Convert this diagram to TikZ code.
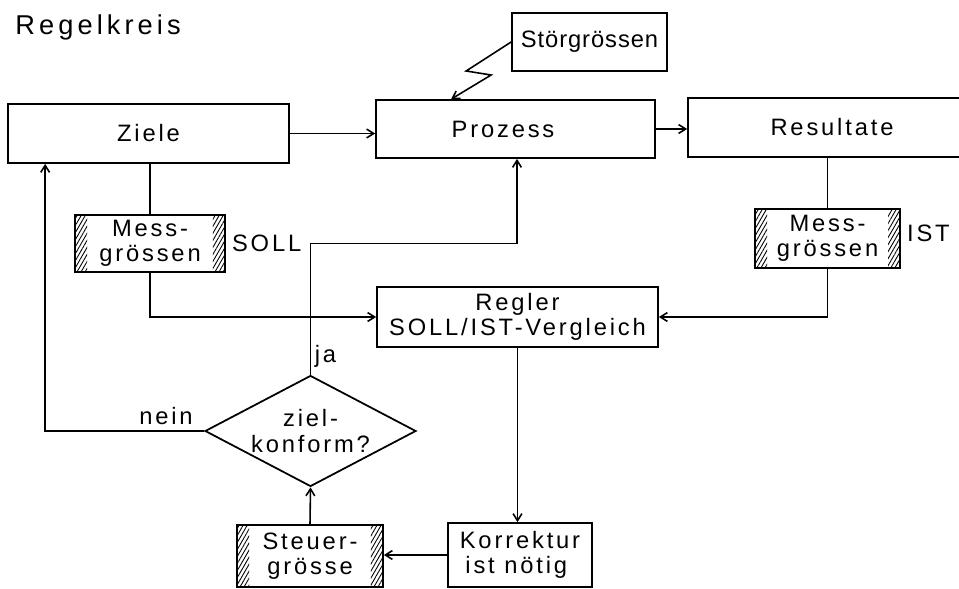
\documentclass[tikz,border=0pt]{standalone}
\usepackage{fontspec}
\setmainfont[LetterSpace=12]{Liberation Sans}
\newfontfamily\titlefont[LetterSpace=15]{Liberation Sans}
\newfontfamily\engfont[LetterSpace=4]{Liberation Sans}
\usetikzlibrary{shapes.geometric,arrows.meta,patterns.meta}
\tikzset{
    block/.style = {draw, line width=1pt, rectangle, inner sep=0pt, align=center},
    messbox/.style = {block, path picture={
        \path[pattern={Lines[angle=60,distance=2pt,line width=0.5pt]}]
            (path picture bounding box.north west) rectangle ([xshift=0.24cm]path picture bounding box.south west);
        \path[pattern={Lines[angle=60,distance=2pt,line width=0.5pt]}]
            (path picture bounding box.north east) rectangle ([xshift=-0.24cm]path picture bounding box.south east);
    }},
    decision/.style = {draw, line width=1pt, diamond, aspect=1.9, inner sep=0pt, align=center},
    conn/.style = {line width=0.9pt},
    arr/.style = {conn, -{Straight Barb[length=4pt,width=5pt]}},
}

\begin{document}
\begin{tikzpicture}[x=0.02cm, y=-0.02cm, font=\fontsize{13.5}{14.5}\selectfont]
\useasboundingbox (0,0) rectangle (959,588);
\node[anchor=base west, inner sep=0pt, font=\titlefont\fontsize{15.5}{17}\selectfont] (titel) at (15,35) {Regelkreis};

% obere Reihe
\node[block, minimum width=5.62cm, minimum height=1.18cm] (ziele) at (148.5,133.5) {Ziele};
\node[block, minimum width=5.58cm, minimum height=1.16cm] (prozess) at (515.5,129) {Prozess\hspace*{0.5cm}};
\node[block, minimum width=5.76cm, minimum height=1.18cm] (resultate) at (832,127.5) {Resultate};
\node[block, minimum width=3.1cm, minimum height=1.16cm, font=\engfont\fontsize{13.5}{14.5}\selectfont] (stoer) at (589.5,42) {Störgrössen};

% Messgroessen links und rechts
\node[messbox, minimum width=3cm, minimum height=1.14cm] (messsoll) at (150,243.5) {Mess-\\grössen};
\node[messbox, minimum width=2.9cm, minimum height=1.18cm] (messist) at (827.5,238.5) {Mess-\\grössen};
\node[right] (soll) at (messsoll.east) {SOLL};
\node[right] (ist) at ([yshift=0.1cm]messist.east) {IST};

% Regler und Rueckfuehrung
\node[block, minimum width=5.62cm, minimum height=1.2cm] (regler) at (517.5,317) {Regler\\SOLL/IST-Vergleich};
\node[block, minimum width=2.88cm, minimum height=1.28cm] (korrektur) at (520,555) {Korrektur\\ist nötig\hspace*{0.15cm}};
\node[messbox, minimum width=2.92cm, minimum height=1.24cm] (steuer) at (310,556) {Steuer-\\grösse};
\node[decision, minimum width=4.22cm, minimum height=2.22cm] (zielkonform) at (310.5,431) {ziel-\\konform?};

\draw[arr] (ziele.east) -- (ziele.east -| prozess.west);
\draw[arr] (prozess.east) -- (prozess.east -| resultate.west);
\draw[arr] (stoer.west) -- ++(-45,29) -- ++(25,4) -- ([xshift=1.52cm]prozess.north west);

\draw[conn] (ziele.south -| messsoll.north) -- (messsoll.north);
\draw[arr] (messsoll.south) |- (regler.west);
\draw[conn] (resultate.south -| messist.north) -- (messist.north);
\draw[arr] (messist.south) |- (regler.east);

\draw[arr] (regler.south) -- (regler.south |- korrektur.north);
\draw[arr] (korrektur.west) -- (korrektur.west -| steuer.east);
\draw[arr] (steuer.north) -- (zielkonform.south);
\draw[arr] (zielkonform.west) -| node[above, pos=0.12] (nein) {nein} ([xshift=0.76cm]ziele.south west);
\draw[arr] (zielkonform.north) -- node[right, pos=0.14, inner sep=2pt] (ja) {ja} ++(0,-131) -| ([xshift=0.03cm]prozess.south);
\end{tikzpicture}
\end{document}
